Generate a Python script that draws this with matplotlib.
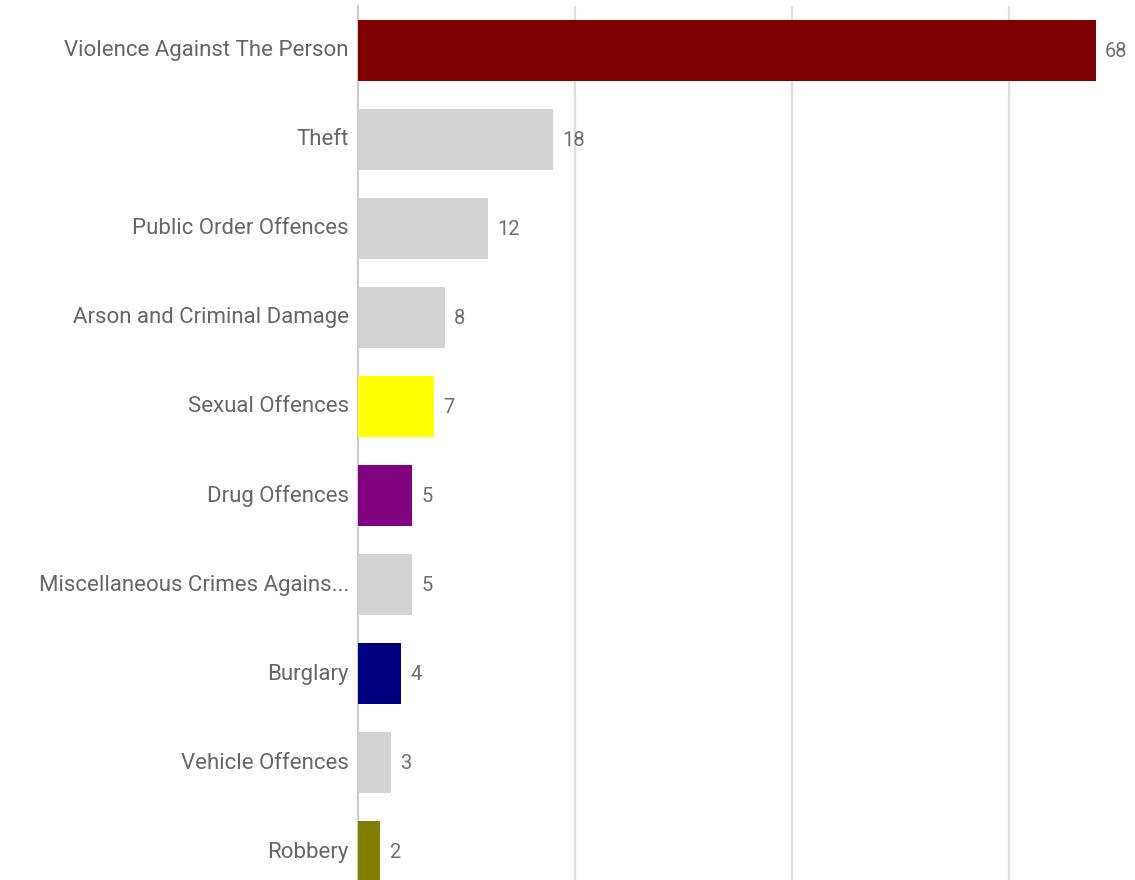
import numpy as np
import matplotlib.pyplot as plt
import matplotlib.transforms as mtransforms

# Données
categories = ["Violence Against The Person", "Theft", "Public Order Offences",
              "Arson and Criminal Damage", "Sexual Offences", "Drug Offences",
              "Miscellaneous Crimes Agains...", "Burglary", "Vehicle Offences", "Robbery"]
valeurs = [68, 18, 12, 8, 7, 5, 5, 4, 3, 2]
couleurs = ["#800000", "#d3d3d3", "#d3d3d3", "#d3d3d3", "#ffff00", "#800080",
            "#d3d3d3", "#000080", "#d3d3d3", "#808000"]

plt.rcParams['font.family'] = ['Roboto', 'DejaVu Sans']

fig = plt.figure(figsize=(11.35, 8.8), dpi=100)
ax = fig.add_axes([358/1135, (880-896)/880, 71*10.85/1135, 890/880])

y = np.arange(len(categories))
ax.barh(y, valeurs, height=0.69, color=couleurs, zorder=3)

for yi, v in zip(y, valeurs):
    ax.text(v + 0.85, yi + 0.01, str(v), va="center", ha="left",
            fontsize=14.5, color="#6e6e6e")

ax.set_xlim(0, 71)
ax.set_ylim(len(categories) - 0.5, -0.5)
ax.set_xticks([20, 40, 60])
ax.set_xticklabels([])
ax.set_yticks(y)
ax.set_yticklabels(categories, fontsize=16, color="#666666")
ax.tick_params(axis="both", length=0, pad=6.5)

# labels un peu plus haut
decalage = mtransforms.ScaledTranslation(0, 2/100, fig.dpi_scale_trans)
for lab in ax.get_yticklabels():
    lab.set_transform(lab.get_transform() + decalage)

ax.grid(axis="x", color="#dedede", linewidth=1.6, zorder=0)

for s in ["top", "right", "bottom"]:
    ax.spines[s].set_visible(False)
ax.spines["left"].set_color("#cccccc")
ax.spines["left"].set_linewidth(1.5)

fig.savefig("out.png", dpi=100)
